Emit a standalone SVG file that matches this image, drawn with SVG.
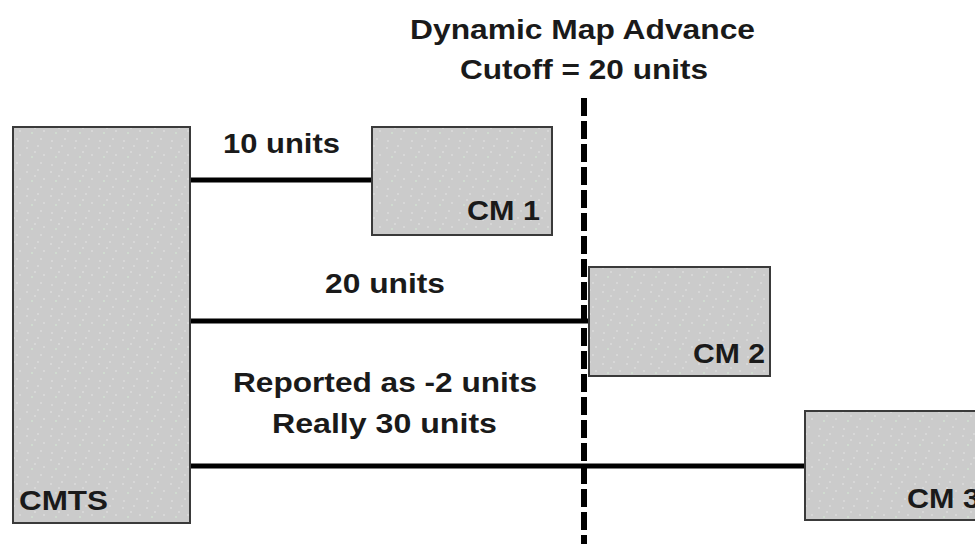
<svg xmlns="http://www.w3.org/2000/svg" width="975" height="544" viewBox="0 0 975 544">
<defs>
<pattern id="stipple" width="24" height="24" patternUnits="userSpaceOnUse">
<rect width="24" height="24" fill="#cbcbcb"/>
<circle cx="3" cy="4" r="0.8" fill="#e6e6e6"/>
<circle cx="14" cy="2" r="0.8" fill="#e6e6e6"/>
<circle cx="20" cy="11" r="0.8" fill="#e6e6e6"/>
<circle cx="8" cy="13" r="0.8" fill="#d8f0d8"/>
<circle cx="17" cy="19" r="0.8" fill="#e6e6e6"/>
<circle cx="4" cy="21" r="0.8" fill="#e6e6e6"/>
<circle cx="11" cy="8" r="0.8" fill="#e6e6e6"/>
</pattern>
</defs>
<style>
.box{fill:url(#stipple);stroke:#3a3a3a;stroke-width:2}
.t{font-family:"Liberation Sans",Arial,sans-serif;font-weight:bold;font-size:28px;fill:#1a1a1a}
.c{stroke:#000;stroke-width:5;fill:none}
.cut{stroke:#000;stroke-width:6;stroke-dasharray:18 5;fill:none}
</style>
<rect width="975" height="544" fill="#fff"/>
<g id="connectors">
<line class="c" x1="190" y1="180" x2="372" y2="180"/>
<line class="c" x1="190" y1="321" x2="589" y2="321"/>
<line class="c" x1="190" y1="466" x2="805" y2="466"/>
<line class="cut" x1="584" y1="98" x2="584" y2="544"/>
</g>
<g id="cmts">
<rect class="box" x="13" y="127" width="177" height="396"/>
<text class="t" x="19" y="510" textLength="89" lengthAdjust="spacingAndGlyphs">CMTS</text>
</g>
<g id="cm1">
<rect class="box" x="372" y="127" width="180" height="108"/>
<text class="t" x="467" y="220" textLength="73" lengthAdjust="spacingAndGlyphs">CM 1</text>
</g>
<g id="cm2">
<rect class="box" x="589" y="267" width="181" height="109"/>
<text class="t" x="693" y="363" textLength="72" lengthAdjust="spacingAndGlyphs">CM 2</text>
</g>
<g id="cm3">
<rect class="box" x="805" y="411" width="190" height="109"/>
<text class="t" x="907" y="508" textLength="73" lengthAdjust="spacingAndGlyphs">CM 3</text>
</g>
<g id="labels">
<text class="t" x="410" y="39" textLength="345" lengthAdjust="spacingAndGlyphs">Dynamic Map Advance</text>
<text class="t" x="460" y="79" textLength="248" lengthAdjust="spacingAndGlyphs">Cutoff = 20 units</text>
<text class="t" x="223" y="153" textLength="117" lengthAdjust="spacingAndGlyphs">10 units</text>
<text class="t" x="325" y="293" textLength="120" lengthAdjust="spacingAndGlyphs">20 units</text>
<text class="t" x="233" y="392" textLength="304" lengthAdjust="spacingAndGlyphs">Reported as -2 units</text>
<text class="t" x="272" y="433" textLength="225" lengthAdjust="spacingAndGlyphs">Really 30 units</text>
</g>
</svg>
